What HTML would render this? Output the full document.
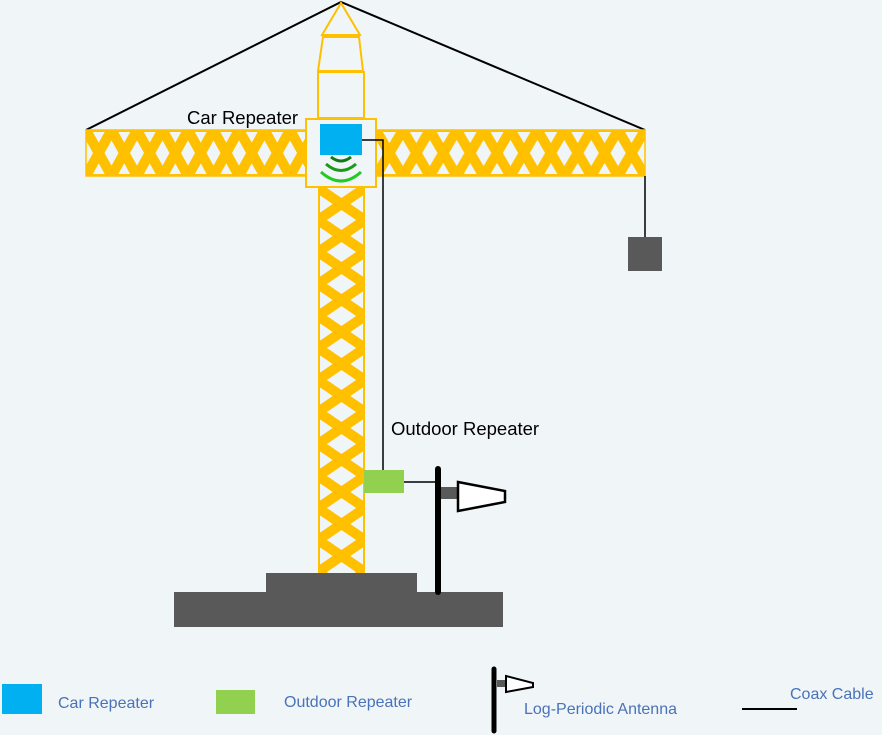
<!DOCTYPE html>
<html><head><meta charset="utf-8"><style>
html,body{margin:0;padding:0;background:#f0f5f8;}
svg{display:block;}
text{font-family:"Liberation Sans",sans-serif;}
</style></head><body>
<svg width="882" height="735" viewBox="0 0 882 735" xmlns="http://www.w3.org/2000/svg">
<defs>
<pattern id="jib" x="86" y="130" width="25.5" height="46" patternUnits="userSpaceOnUse">
<rect width="25.5" height="46" fill="#f0f5f8"/>
<path d="M0,0 L25.5,46 M25.5,0 L0,46" stroke="#ffc000" stroke-width="10"/>
<path d="M0,0 H25.5 M0,46 H25.5" stroke="#ffc000" stroke-width="4"/>
</pattern>
<pattern id="jib2" x="376" y="130" width="26.9" height="46" patternUnits="userSpaceOnUse">
<rect width="26.9" height="46" fill="#f0f5f8"/>
<path d="M0,0 L26.9,46 M26.9,0 L0,46" stroke="#ffc000" stroke-width="10"/>
<path d="M0,0 H26.9 M0,46 H26.9" stroke="#ffc000" stroke-width="4"/>
</pattern>
<pattern id="mast" x="318" y="188" width="47" height="32" patternUnits="userSpaceOnUse">
<rect width="47" height="32" fill="#f0f5f8"/>
<path d="M0,0 L47,32 M47,0 L0,32" stroke="#ffc000" stroke-width="10"/>
<path d="M0,0 V32 M47,0 V32" stroke="#ffc000" stroke-width="4"/>
</pattern>
</defs>
<path d="M86,130 L341,2 L645,130" fill="none" stroke="#000" stroke-width="2"/>
<rect x="86" y="130" width="220" height="46" fill="url(#jib)" stroke="#ffc000" stroke-width="1.5"/>
<rect x="376" y="130" width="269" height="46" fill="url(#jib2)" stroke="#ffc000" stroke-width="1.5"/>
<rect x="318" y="188" width="47" height="385" fill="url(#mast)"/>
<polygon points="341,3 322,35 360,35" fill="none" stroke="#ffc000" stroke-width="2"/>
<polygon points="323,37 359,37 363,71 318,71" fill="none" stroke="#ffc000" stroke-width="2"/>
<rect x="318" y="72" width="46" height="46" fill="none" stroke="#ffc000" stroke-width="2"/>
<rect x="306" y="119" width="70" height="68" fill="#f0f5f8" stroke="#ffc000" stroke-width="2"/>
<rect x="320" y="124" width="42" height="31" fill="#00b0f0"/>
<path d="M331,157 Q341,165 351,157" fill="none" stroke="#127a12" stroke-width="3"/>
<path d="M326,164 Q341,177 356,164" fill="none" stroke="#1a9a1a" stroke-width="3"/>
<path d="M321,172 Q341,190 361,172" fill="none" stroke="#22cc22" stroke-width="3"/>
<path d="M362,140 H383 V470" fill="none" stroke="#000" stroke-width="1.5"/>
<path d="M645,176 V237" fill="none" stroke="#000" stroke-width="1.5"/>
<path d="M404,482 H437" fill="none" stroke="#000" stroke-width="1.5"/>
<rect x="628" y="237" width="34" height="34" fill="#595959"/>
<rect x="364" y="470" width="40" height="23" fill="#92d050"/>
<rect x="266" y="573" width="151" height="20" fill="#595959"/>
<rect x="174" y="592" width="329" height="35" fill="#595959"/>
<line x1="438" y1="469" x2="438" y2="592" stroke="#000" stroke-width="6" stroke-linecap="round"/>
<rect x="441" y="487" width="16" height="12" fill="#595959"/>
<polygon points="458,482 505,491 505,502 458,511" fill="#fff" stroke="#000" stroke-width="2.5"/>
<text x="187" y="124" font-size="18.5" fill="#000">Car Repeater</text>
<text x="391" y="435" font-size="18.5" fill="#000">Outdoor Repeater</text>
<rect x="2" y="684" width="40" height="30" fill="#00b0f0"/>
<text x="58" y="708" font-size="16" fill="#4a72b8">Car Repeater</text>
<rect x="216" y="690" width="39" height="24" fill="#92d050"/>
<text x="284" y="707" font-size="16" fill="#4a72b8">Outdoor Repeater</text>
<line x1="494" y1="669" x2="494" y2="731" stroke="#000" stroke-width="5" stroke-linecap="round"/>
<rect x="497" y="680" width="8" height="7" fill="#595959"/>
<polygon points="506,676 533,683 533,687 506,692" fill="#fff" stroke="#000" stroke-width="2"/>
<text x="524" y="714" font-size="16" fill="#4a72b8">Log-Periodic Antenna</text>
<line x1="742" y1="709" x2="797" y2="709" stroke="#000" stroke-width="2"/>
<text x="790" y="699" font-size="16" fill="#4a72b8">Coax Cable</text>
</svg>
</body></html>
